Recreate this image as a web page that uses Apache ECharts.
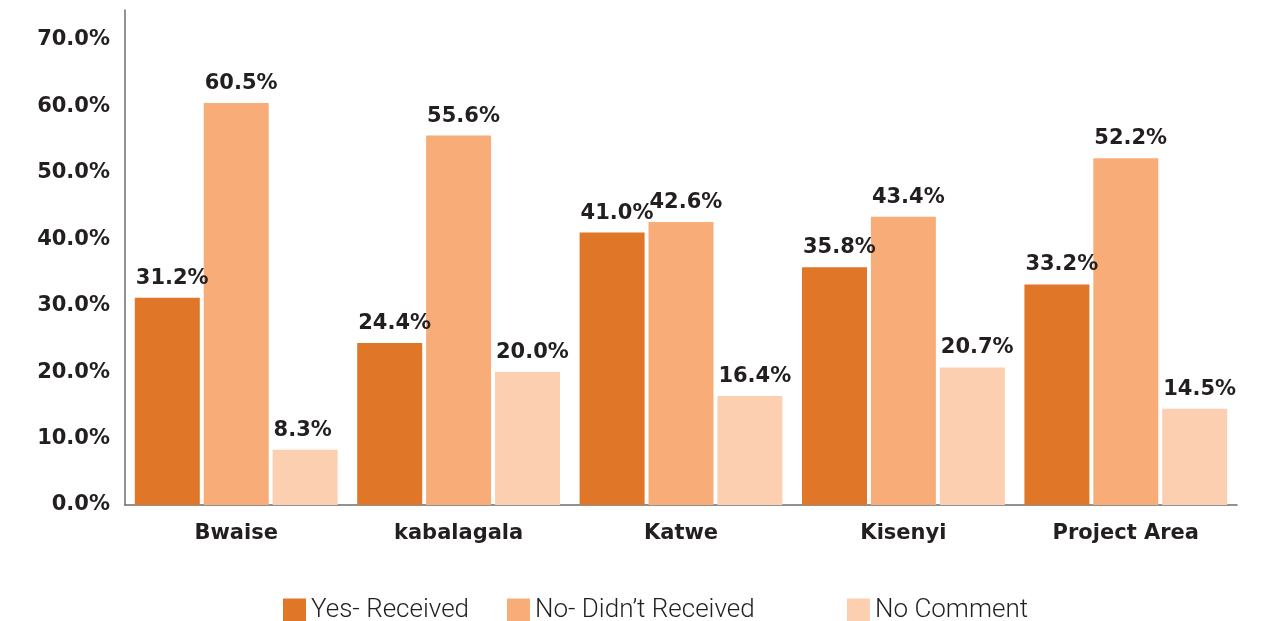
<!DOCTYPE html>
<html>
<head>
<meta charset="utf-8">
<script src="https://cdn.jsdelivr.net/npm/echarts@6/dist/echarts.min.js"></script>
<style>
  html, body { margin: 0; padding: 0; background: #fff; }
  #chart { width: 1261px; height: 621px; }
</style>
</head>
<body>
<div id="chart"></div>
<script>
const categories = ['Bwaise', 'kabalagala', 'Katwe', 'Kisenyi', 'Project Area'];
const seriesNames = ['Yes- Received', 'No- Didn\u2019t Received', 'No Comment'];
const yesReceived = [31.2, 24.4, 41.0, 35.8, 33.2];
const noReceived = [60.5, 55.6, 42.6, 43.4, 52.2];
const noComment = [8.3, 20.0, 16.4, 20.7, 14.5];
const yTicks = [0, 10, 20, 30, 40, 50, 60, 70];

(function () {
  const el = document.getElementById('chart');
  const chart = echarts.init(el);

  const colors = ['#e07628', '#f8ad79', '#fbcfaf'];
  const textColor = '#231f20';
  const axisColor = '#6d6d6d';
  const boldFont = 'DejaVu Sans';

  const valueLabel = {
    show: true,
    position: [1, -9],
    align: 'left',
    verticalAlign: 'bottom',
    color: textColor,
    fontFamily: boldFont,
    fontWeight: 'bold',
    fontSize: 21,
    formatter: (p) => p.value.toFixed(1) + '%',
  };

  const values = [yesReceived, noReceived, noComment];
  const barSeries = seriesNames.map((name, i) => ({
    name,
    type: 'bar',
    data: values[i],
    barWidth: 65,
    barGap: '6%',
    itemStyle: { color: colors[i] },
    label: valueLabel,
  }));

  const legendBase = {
    top: 592,
    itemWidth: 23,
    itemHeight: 23,
    icon: 'rect',
    textStyle: {
      color: textColor,
      fontFamily: 'Roboto',
      fontWeight: 300,
      fontSize: 26,
    },
  };

  chart.setOption({
    animation: false,
    color: colors,
    legend: [
      Object.assign({ left: 278, data: [seriesNames[0]] }, legendBase),
      Object.assign({ left: 502, data: [seriesNames[1]] }, legendBase),
      Object.assign({ left: 842, data: [seriesNames[2]] }, legendBase),
    ],
    grid: {
      left: 125,
      right: 24,
      top: 10,
      bottom: 621 - 505,
      containLabel: false,
    },
    xAxis: {
      type: 'category',
      data: categories,
      axisLine: { lineStyle: { color: axisColor, width: 1.5 } },
      axisTick: { show: false },
      axisLabel: {
        color: textColor,
        fontFamily: boldFont,
        fontWeight: 'bold',
        fontSize: 21,
        margin: 18,
      },
    },
    yAxis: {
      type: 'value',
      min: 0,
      max: 74.5,
      interval: 10,
      axisLine: { show: true, lineStyle: { color: axisColor, width: 1.5 } },
      axisTick: { show: false },
      splitLine: { show: false },
      axisLabel: {
        color: textColor,
        fontFamily: boldFont,
        fontWeight: 'bold',
        fontSize: 21,
        margin: 15,
        showMaxLabel: false,
        formatter: (v) => (yTicks.indexOf(v) >= 0 ? v.toFixed(1) + '%' : ''),
      },
    },
    series: barSeries,
  });

  window.addEventListener('resize', () => chart.resize());
})();
</script>
</body>
</html>
